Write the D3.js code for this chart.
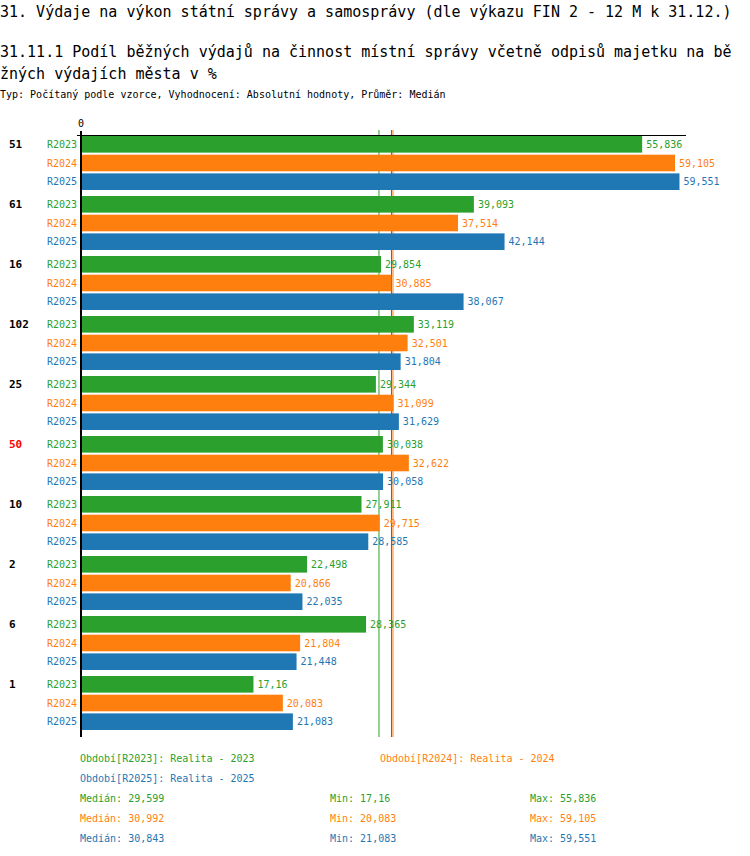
<!DOCTYPE html>
<meta charset="utf-8">
<head>
  <title>Podíl běžných výdajů</title>
</head>
<style>
body { margin: 0; background: #fff; }
text { font-family: "DejaVu Sans Mono", "Liberation Mono", monospace; }
.title { font-size: 15px; fill: #000; }
.note { font-size: 10px; fill: #000; }
.cat { font-size: 11px; font-weight: bold; }
.small { font-size: 10px; }
</style>
<body>
  <svg width="750" height="856"></svg>
  <script src="https://cdnjs.cloudflare.com/ajax/libs/d3/7.8.5/d3.min.js"></script>
  <script>
var categories = ["51", "61", "16", "102", "25", "50", "10", "2", "6", "1"];
var series = ["R2023", "R2024", "R2025"];
var seriesNames = ["Realita - 2023", "Realita - 2024", "Realita - 2025"];
var r2023 = [55.836, 39.093, 29.854, 33.119, 29.344, 30.038, 27.911, 22.498, 28.365, 17.16];
var r2024 = [59.105, 37.514, 30.885, 32.501, 31.099, 32.622, 29.715, 20.866, 21.804, 20.083];
var r2025 = [59.551, 42.144, 38.067, 31.804, 31.629, 30.058, 28.585, 22.035, 21.448, 21.083];
var medians = [29.599, 30.992, 30.843];
var highlight = "50";

var colors = ["#2ca02c", "#ff7f0e", "#1f77b4"];
var values = [r2023, r2024, r2025];

var svg = d3.select("svg");
var fmt = function(v) { return String(v).replace(".", ","); };

// headings
svg.append("text").attr("class", "title").attr("x", 0).attr("y", 17)
  .text("31. Výdaje na výkon státní správy a samosprávy (dle výkazu FIN 2 - 12 M k 31.12.)");
svg.append("text").attr("class", "title").attr("x", 0).attr("y", 57)
  .text("31.11.1 Podíl běžných výdajů na činnost místní správy včetně odpisů majetku na bě");
svg.append("text").attr("class", "title").attr("x", 0).attr("y", 79)
  .text("žných výdajích města v %");
svg.append("text").attr("class", "note").attr("x", 0).attr("y", 98)
  .text("Typ: Počítaný podle vzorce, Vyhodnocení: Absolutní hodnoty, Průměr: Medián");

// scales
var x = d3.scaleLinear().domain([0, 60]).range([81, 684]);
var y0 = d3.scaleBand().domain(categories).range([136, 736]).paddingInner(0).paddingOuter(0);
var y1 = d3.scaleBand().domain(series).range([0, 54]).paddingInner(2 / 18).paddingOuter(0);

var rows = [];
categories.forEach(function(c, i) {
  series.forEach(function(s, j) {
    rows.push({cat: c, ser: s, j: j, v: values[j][i]});
  });
});

// median lines (behind bars)
svg.append("g").selectAll("line").data(medians).enter().append("line")
  .attr("x1", function(d) { return x(d) + 0.5; })
  .attr("x2", function(d) { return x(d) + 0.5; })
  .attr("y1", 130).attr("y2", 737)
  .attr("stroke", function(d, i) { return colors[i]; })
  .attr("stroke-width", 1);

// bars
svg.append("g").selectAll("rect").data(rows).enter().append("rect")
  .attr("x", 82)
  .attr("y", function(d) { return y0(d.cat) + y1(d.ser); })
  .attr("width", function(d) { return x(d.v) - 82; })
  .attr("height", y1.bandwidth())
  .attr("fill", function(d) { return colors[d.j]; });

// value labels
svg.append("g").selectAll("text").data(rows).enter().append("text")
  .attr("class", "small")
  .attr("x", function(d) { return x(d.v) + 4; })
  .attr("y", function(d) { return y0(d.cat) + y1(d.ser) + y1.bandwidth() / 2; })
  .attr("dy", "0.35em")
  .attr("fill", function(d) { return colors[d.j]; })
  .text(function(d) { return fmt(d.v); });

// series labels
svg.append("g").selectAll("text").data(rows).enter().append("text")
  .attr("class", "small")
  .attr("x", 77).attr("text-anchor", "end")
  .attr("y", function(d) { return y0(d.cat) + y1(d.ser) + y1.bandwidth() / 2; })
  .attr("dy", "0.35em")
  .attr("fill", function(d) { return colors[d.j]; })
  .text(function(d) { return d.ser; });

// category labels
svg.append("g").selectAll("text").data(categories).enter().append("text")
  .attr("class", "cat")
  .attr("x", 9)
  .attr("y", function(d) { return y0(d) + y1.bandwidth() / 2; })
  .attr("dy", "0.35em")
  .attr("fill", function(d) { return d === highlight ? "#ff0000" : "#000"; })
  .text(function(d) { return d; });

// axes
svg.append("line").attr("x1", 77).attr("x2", 686).attr("y1", 135.5).attr("y2", 135.5)
  .attr("stroke", "#000").attr("stroke-width", 1);
svg.append("line").attr("x1", 81).attr("x2", 81).attr("y1", 131).attr("y2", 737)
  .attr("stroke", "#000").attr("stroke-width", 2);
svg.append("text").attr("class", "small").attr("x", x(0)).attr("y", 127)
  .attr("text-anchor", "middle").text("0");

// legend
var legendPos = [[80, 758], [380, 758], [80, 778]];
svg.append("g").selectAll("text").data(series).enter().append("text")
  .attr("class", "small")
  .attr("x", function(d, i) { return legendPos[i][0]; })
  .attr("y", function(d, i) { return legendPos[i][1]; })
  .attr("dy", "0.35em")
  .attr("fill", function(d, i) { return colors[i]; })
  .text(function(d, i) { return "Období[" + d + "]: " + seriesNames[i]; });

// statistics
var stats = series.map(function(s, j) {
  return [
    "Medián: " + fmt(medians[j]),
    "Min: " + fmt(d3.min(values[j])),
    "Max: " + fmt(d3.max(values[j]))
  ];
});
var statCols = [80, 330, 530];
stats.forEach(function(row, j) {
  svg.append("g").selectAll("text").data(row).enter().append("text")
    .attr("class", "small")
    .attr("x", function(d, k) { return statCols[k]; })
    .attr("y", 798 + j * 20)
    .attr("dy", "0.35em")
    .attr("fill", colors[j])
    .text(function(d) { return d; });
});
  </script>
</body>
</html>
